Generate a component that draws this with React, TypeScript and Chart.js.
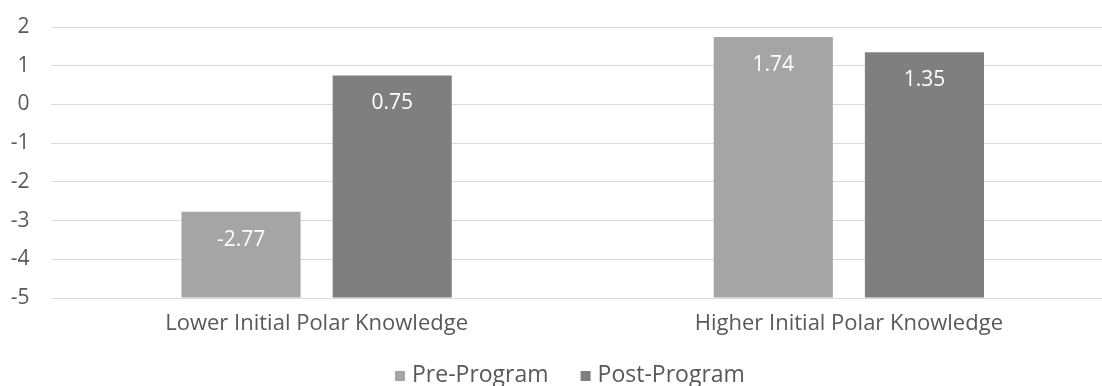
import React, { useEffect, useRef } from "react";
import { Chart, registerables } from "chart.js";

Chart.register(...registerables);

const categories = ["Lower Initial Polar Knowledge", "Higher Initial Polar Knowledge"];
const preProgram = [-2.77, 1.74];
const postProgram = [0.75, 1.35];
const seriesNames = ["Pre-Program", "Post-Program"];
const seriesColors = ["#A5A5A5", "#7F7F7F"];
const yMin = -5;
const yMax = 2;

const FONT = "'Open Sans', 'Noto Sans', sans-serif";
const TEXT = "#595959";

const labelPlugin = {
  id: "insideEndLabels",
  afterDatasetsDraw(chart: any) {
    const ctx = chart.ctx;
    ctx.save();
    ctx.fillStyle = "#ffffff";
    ctx.font = `21px ${FONT}`;
    ctx.textAlign = "center";
    ctx.textBaseline = "middle";
    chart.data.datasets.forEach((ds: any, di: number) => {
      const meta = chart.getDatasetMeta(di);
      meta.data.forEach((bar: any, i: number) => {
        const v = ds.data[i];
        ctx.fillText(v.toFixed(2), bar.x, bar.y + 28);
      });
    });
    ctx.restore();
  },
};

const legendPlugin = {
  id: "bottomLegend",
  afterDraw(chart: any) {
    const ctx = chart.ctx;
    ctx.save();
    ctx.font = `23px ${FONT}`;
    ctx.textBaseline = "middle";
    ctx.textAlign = "left";
    const yc = 375;
    let x = 395;
    chart.data.datasets.forEach((ds: any) => {
      ctx.fillStyle = ds.backgroundColor;
      ctx.fillRect(x, yc - 4, 10, 10);
      x += 17;
      ctx.fillStyle = TEXT;
      ctx.fillText(ds.label, x, yc);
      x += ctx.measureText(ds.label).width + 32;
    });
    ctx.restore();
  },
};

export default function App() {
  const ref = useRef<HTMLCanvasElement | null>(null);
  useEffect(() => {
    document.body.style.margin = "0";
    document.body.style.overflow = "hidden";
    const chart = new Chart(ref.current!, {
      type: "bar",
      data: {
        labels: categories,
        datasets: [
          {
            label: seriesNames[0],
            data: preProgram,
            backgroundColor: seriesColors[0],
            base: yMin,
            categoryPercentage: 0.568,
            barPercentage: 0.788,
          } as any,
          {
            label: seriesNames[1],
            data: postProgram,
            backgroundColor: seriesColors[1],
            base: yMin,
            categoryPercentage: 0.568,
            barPercentage: 0.788,
          } as any,
        ],
      },
      options: {
        animation: false,
        responsive: false,
        maintainAspectRatio: false,
        layout: { padding: { top: 27, left: 0, right: 0, bottom: 0 } },
        plugins: {
          tooltip: { enabled: false },
          legend: { display: false },
        },
        scales: {
          x: {
            grid: { display: false },
            border: { display: false },
            afterFit: (s: any) => {
              s.height = 88;
              s.paddingLeft = 0;
              s.paddingRight = 0;
            },
            ticks: {
              color: TEXT,
              font: { family: FONT, size: 22 },
              padding: 5,
            },
          },
          y: {
            min: yMin,
            max: yMax,
            afterFit: (s: any) => {
              s.width = 50.5;
              s.paddingTop = 0;
              s.paddingBottom = 0;
            },
            ticks: {
              stepSize: 1,
              color: TEXT,
              font: { family: FONT, size: 21 },
              padding: 21,
            },
            grid: { color: "#d9d9d9", lineWidth: 1, drawTicks: false },
            border: { display: false },
          },
        },
      },
      plugins: [labelPlugin, legendPlugin],
    });
    return () => chart.destroy();
  }, []);
  return (
    <div style={{ position: "absolute", left: 0, top: 0, width: 1102, height: 386, overflow: "hidden" }}>
      <canvas ref={ref} width={1115} height={386} style={{ display: "block" }} />
    </div>
  );
}
